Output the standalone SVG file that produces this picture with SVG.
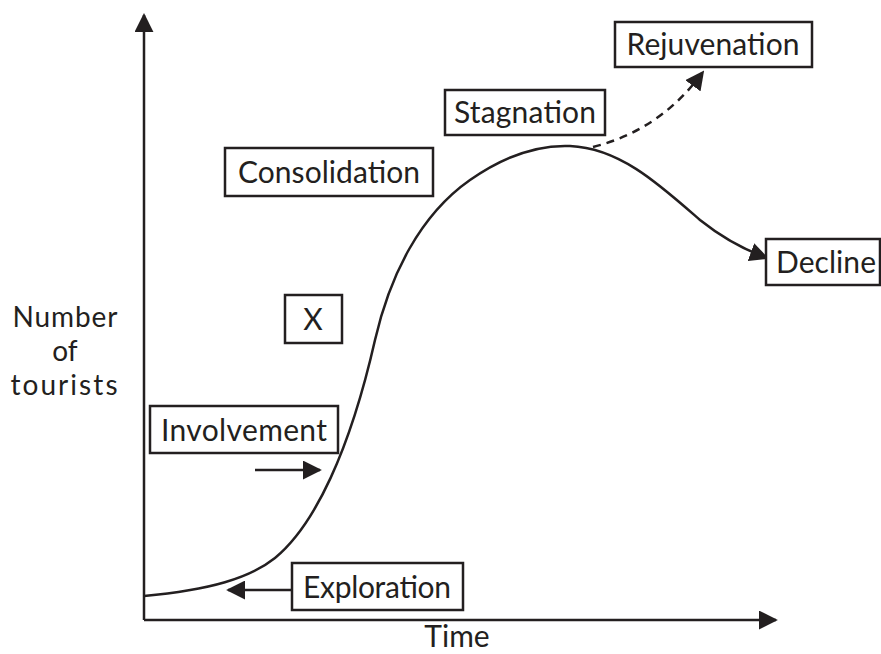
<svg xmlns="http://www.w3.org/2000/svg" width="881" height="654" viewBox="0 0 881 654">
<style>
.ln{fill:none;stroke:#231f20;stroke-width:2.5}
.box{fill:#fff;stroke:#231f20;stroke-width:2.5}
.t{font-family:Lato,"Open Sans",sans-serif;font-size:30px;fill:#231f20}
.y{font-size:28px}
.c{text-anchor:middle}
</style>
<defs>
<marker id="ah2" viewBox="0 0 10 10" refX="9" refY="5" markerWidth="19" markerHeight="19" markerUnits="userSpaceOnUse" orient="auto">
<path d="M0,0 L10,5 L0,10 z" fill="#231f20"/>
</marker>
</defs>
<g id="connectors">
<path class="ln" d="M144,620 V15" marker-end="url(#ah2)"/>
<path class="ln" d="M144,620 H776" marker-end="url(#ah2)"/>
<path class="ln" d="M144,596 C210,590 250,578 275,558 C315,525 350,450 375,340 C390,275 420,215 470,180 C510,152 545,145 570,146 C620,148 660,185 700,220 C725,240 745,250 767,258" marker-end="url(#ah2)"/>
<path class="ln" d="M593,147 C640,135 675,110 703,72" stroke-dasharray="8,6" marker-end="url(#ah2)"/>
<path class="ln" d="M255,470 H320" marker-end="url(#ah2)"/>
<path class="ln" d="M292,590 H228" marker-end="url(#ah2)"/>
</g>
<g id="rejuvenation"><rect class="box" x="615" y="22" width="197" height="45"/><text class="t c" x="713" y="55" textLength="173">Rejuvenation</text></g>
<g id="stagnation"><rect class="box" x="445" y="90" width="160" height="45"/><text class="t c" x="525" y="123" textLength="142">Stagnation</text></g>
<g id="consolidation"><rect class="box" x="225" y="148" width="208" height="48"/><text class="t c" x="329" y="183" textLength="182">Consolidation</text></g>
<g id="decline"><rect class="box" x="766" y="239" width="114" height="46"/><text class="t c" x="826" y="273" textLength="100">Decline</text></g>
<g id="x"><rect class="box" x="285" y="295" width="57" height="48"/><text class="t c" x="313" y="330">X</text></g>
<g id="involvement"><rect class="box" x="150" y="406" width="188" height="47"/><text class="t c" x="244" y="441" textLength="166">Involvement</text></g>
<g id="exploration"><rect class="box" x="292" y="563" width="171" height="47"/><text class="t c" x="377" y="598" textLength="148">Exploration</text></g>
<g id="ylabel"><text class="t y c" x="65" y="327" textLength="105">Number</text><text class="t y c" x="65" y="361">of</text><text class="t y c" x="64" y="395" textLength="107">tourists</text></g>
<g id="xlabel"><text class="t c" x="457" y="647">Time</text></g>
</svg>
